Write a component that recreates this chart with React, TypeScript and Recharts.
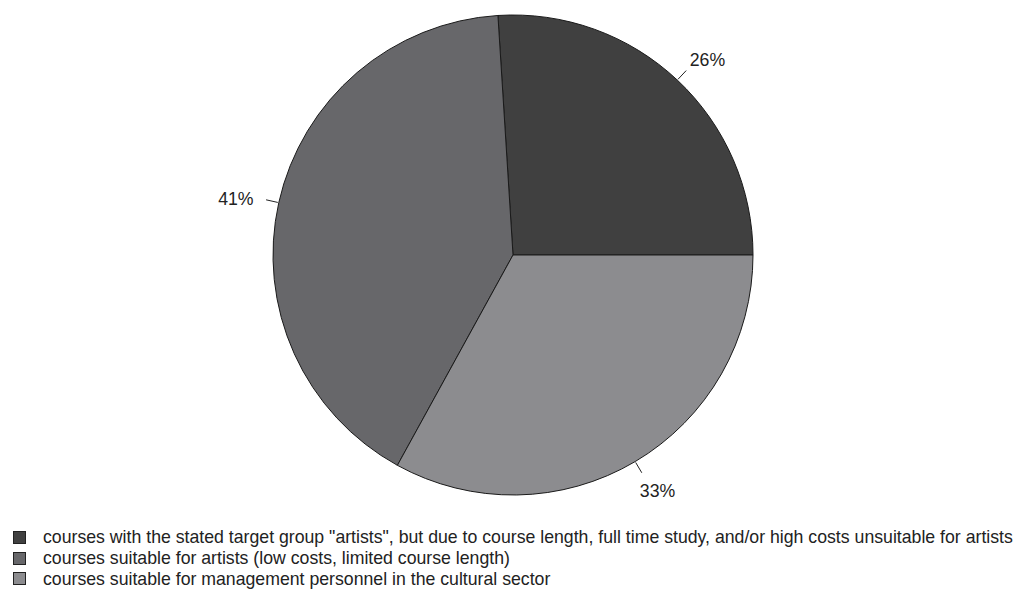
import React from 'react';
import { PieChart, Pie, Cell, Legend } from 'recharts';

const categories = [
  'courses with the stated target group "artists", but due to course length, full time study, and/or high costs unsuitable for artists',
  'courses suitable for artists (low costs, limited course length)',
  'courses suitable for management personnel in the cultural sector',
];
const values = [26, 41, 33];
const colors = ['#404040', '#67676a', '#8c8c8f'];

const data = categories.map((name, i) => ({ name, value: values[i] }));

const RAD = Math.PI / 180;
const FONT = "'Liberation Sans', Arial, sans-serif";

const renderLabel = (props: any) => {
  const { cx, cy, midAngle, outerRadius, value } = props;
  const cos = Math.cos(-midAngle * RAD);
  const sin = Math.sin(-midAngle * RAD);
  const r1 = outerRadius + 1;
  const r2 = outerRadius + 13;
  const x1 = cx + r1 * cos;
  const y1 = cy + r1 * sin;
  const x2 = cx + r2 * cos;
  const y2 = cy + r2 * sin;
  const rt = outerRadius + 25;
  const tx = cx + rt * cos + cos * 19;
  const ty = cy + rt * sin + sin * 6 + 3;
  return (
    <g>
      <line x1={x1} y1={y1} x2={x2} y2={y2} stroke="#222" strokeWidth={1} />
      <text
        x={tx}
        y={ty}
        textAnchor="middle"
        dominantBaseline="central"
        fill="#222"
        fontSize={17.7}
        fontFamily={FONT}
      >
        {`${value}%`}
      </text>
    </g>
  );
};

const renderLegend = () => (
  <div style={{ fontFamily: FONT, fontSize: 17.7, color: '#222' }}>
    {categories.map((c, i) => (
      <div key={i} style={{ display: 'flex', alignItems: 'center', height: 20.8 }}>
        <span
          style={{
            display: 'inline-block',
            flex: 'none',
            width: 11,
            height: 11,
            background: colors[i],
            border: '1px solid #222',
            marginRight: 17,
          }}
        />
        <span style={{ whiteSpace: 'nowrap' }}>{c}</span>
      </div>
    ))}
  </div>
);

export default function App() {
  return (
    <div style={{ position: 'absolute', left: 0, top: 0, width: 1024, height: 589, background: '#fff', overflow: 'hidden' }}>
      <PieChart width={1024} height={589} margin={{ top: 0, right: 0, bottom: 0, left: 0 }}>
        <Pie
          data={data}
          dataKey="value"
          nameKey="name"
          cx={513}
          cy={255}
          outerRadius={240}
          startAngle={0}
          endAngle={360}
          stroke="#1a1a1a"
          strokeWidth={1}
          label={renderLabel}
          labelLine={false}
          isAnimationActive={false}
        >
          {data.map((d, i) => (
            <Cell key={i} fill={colors[i]} />
          ))}
        </Pie>
        <Legend
          content={renderLegend}
          wrapperStyle={{ position: 'absolute', left: 13, top: 527, width: 1010 }}
        />
      </PieChart>
    </div>
  );
}
